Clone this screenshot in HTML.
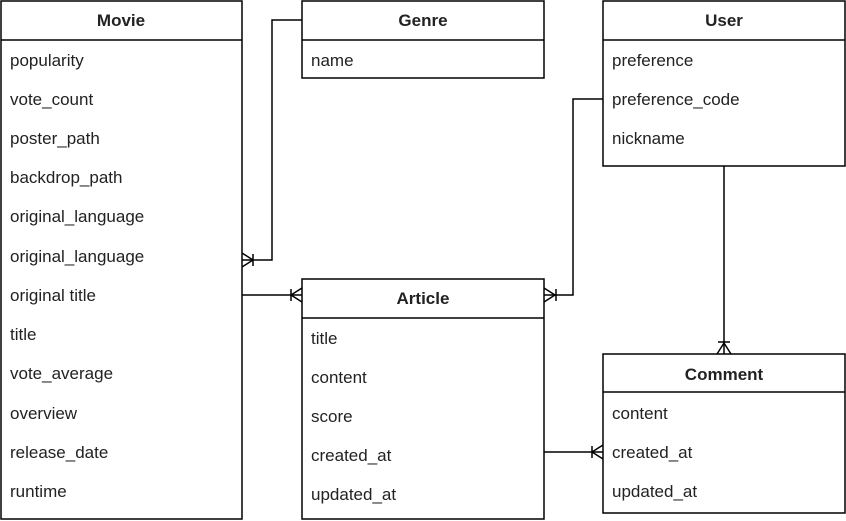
<!DOCTYPE html>
<html><head><meta charset="utf-8"><style>
html,body{margin:0;padding:0;background:#fff;width:846px;height:521px;overflow:hidden}
svg{display:block}
text{font-family:"Liberation Sans",Arial,sans-serif;font-size:17px;fill:#222}
.h{font-weight:bold;text-anchor:middle}
</style></head><body>
<svg width="846" height="521" viewBox="0 0 846 521" xmlns="http://www.w3.org/2000/svg">
<g fill="none" stroke="#000" stroke-width="1.5">
<rect x="1" y="1" width="241" height="518"/><line x1="1" y1="40" x2="242" y2="40"/>
<rect x="302" y="1" width="242" height="77"/><line x1="302" y1="40" x2="544" y2="40"/>
<rect x="603" y="1" width="242" height="165"/><line x1="603" y1="40" x2="845" y2="40"/>
<rect x="302" y="279" width="242" height="240"/><line x1="302" y1="318" x2="544" y2="318"/>
<rect x="603" y="354" width="242" height="159"/><line x1="603" y1="392" x2="845" y2="392"/>
<polyline points="302,20 272,20 272,260 242,260"/>
<path d="M253,260 L242,253 M253,260 L242,267 M253,254 L253,266"/>
<line x1="242" y1="295" x2="302" y2="295"/>
<path d="M291,295 L302,288 M291,295 L302,302 M291,289 L291,301"/>
<polyline points="603,99 573,99 573,295 544,295"/>
<path d="M555,295 L544,288 M555,295 L544,302 M556,289 L556,301"/>
<line x1="724" y1="166" x2="724" y2="354"/>
<path d="M724,343 L717,354 M724,343 L731,354 M718,342 L730,342"/>
<line x1="544" y1="452" x2="603" y2="452"/>
<path d="M592,452 L603,445 M592,452 L603,459 M592,446 L592,458"/>
</g>
<text class="h" x="121" y="26">Movie</text>
<text x="10" y="66">popularity</text>
<text x="10" y="105">vote_count</text>
<text x="10" y="144">poster_path</text>
<text x="10" y="183">backdrop_path</text>
<text x="10" y="222">original_language</text>
<text x="10" y="262">original_language</text>
<text x="10" y="301">original title</text>
<text x="10" y="340">title</text>
<text x="10" y="379">vote_average</text>
<text x="10" y="419">overview</text>
<text x="10" y="458">release_date</text>
<text x="10" y="497">runtime</text>
<text class="h" x="423" y="26">Genre</text>
<text x="311" y="66">name</text>
<text class="h" x="724" y="26">User</text>
<text x="612" y="66">preference</text>
<text x="612" y="105">preference_code</text>
<text x="612" y="144">nickname</text>
<text class="h" x="423" y="304">Article</text>
<text x="311" y="344">title</text>
<text x="311" y="383">content</text>
<text x="311" y="422">score</text>
<text x="311" y="461">created_at</text>
<text x="311" y="500">updated_at</text>
<text class="h" x="724" y="380">Comment</text>
<text x="612" y="419">content</text>
<text x="612" y="458">created_at</text>
<text x="612" y="497">updated_at</text>
</svg>
</body></html>
